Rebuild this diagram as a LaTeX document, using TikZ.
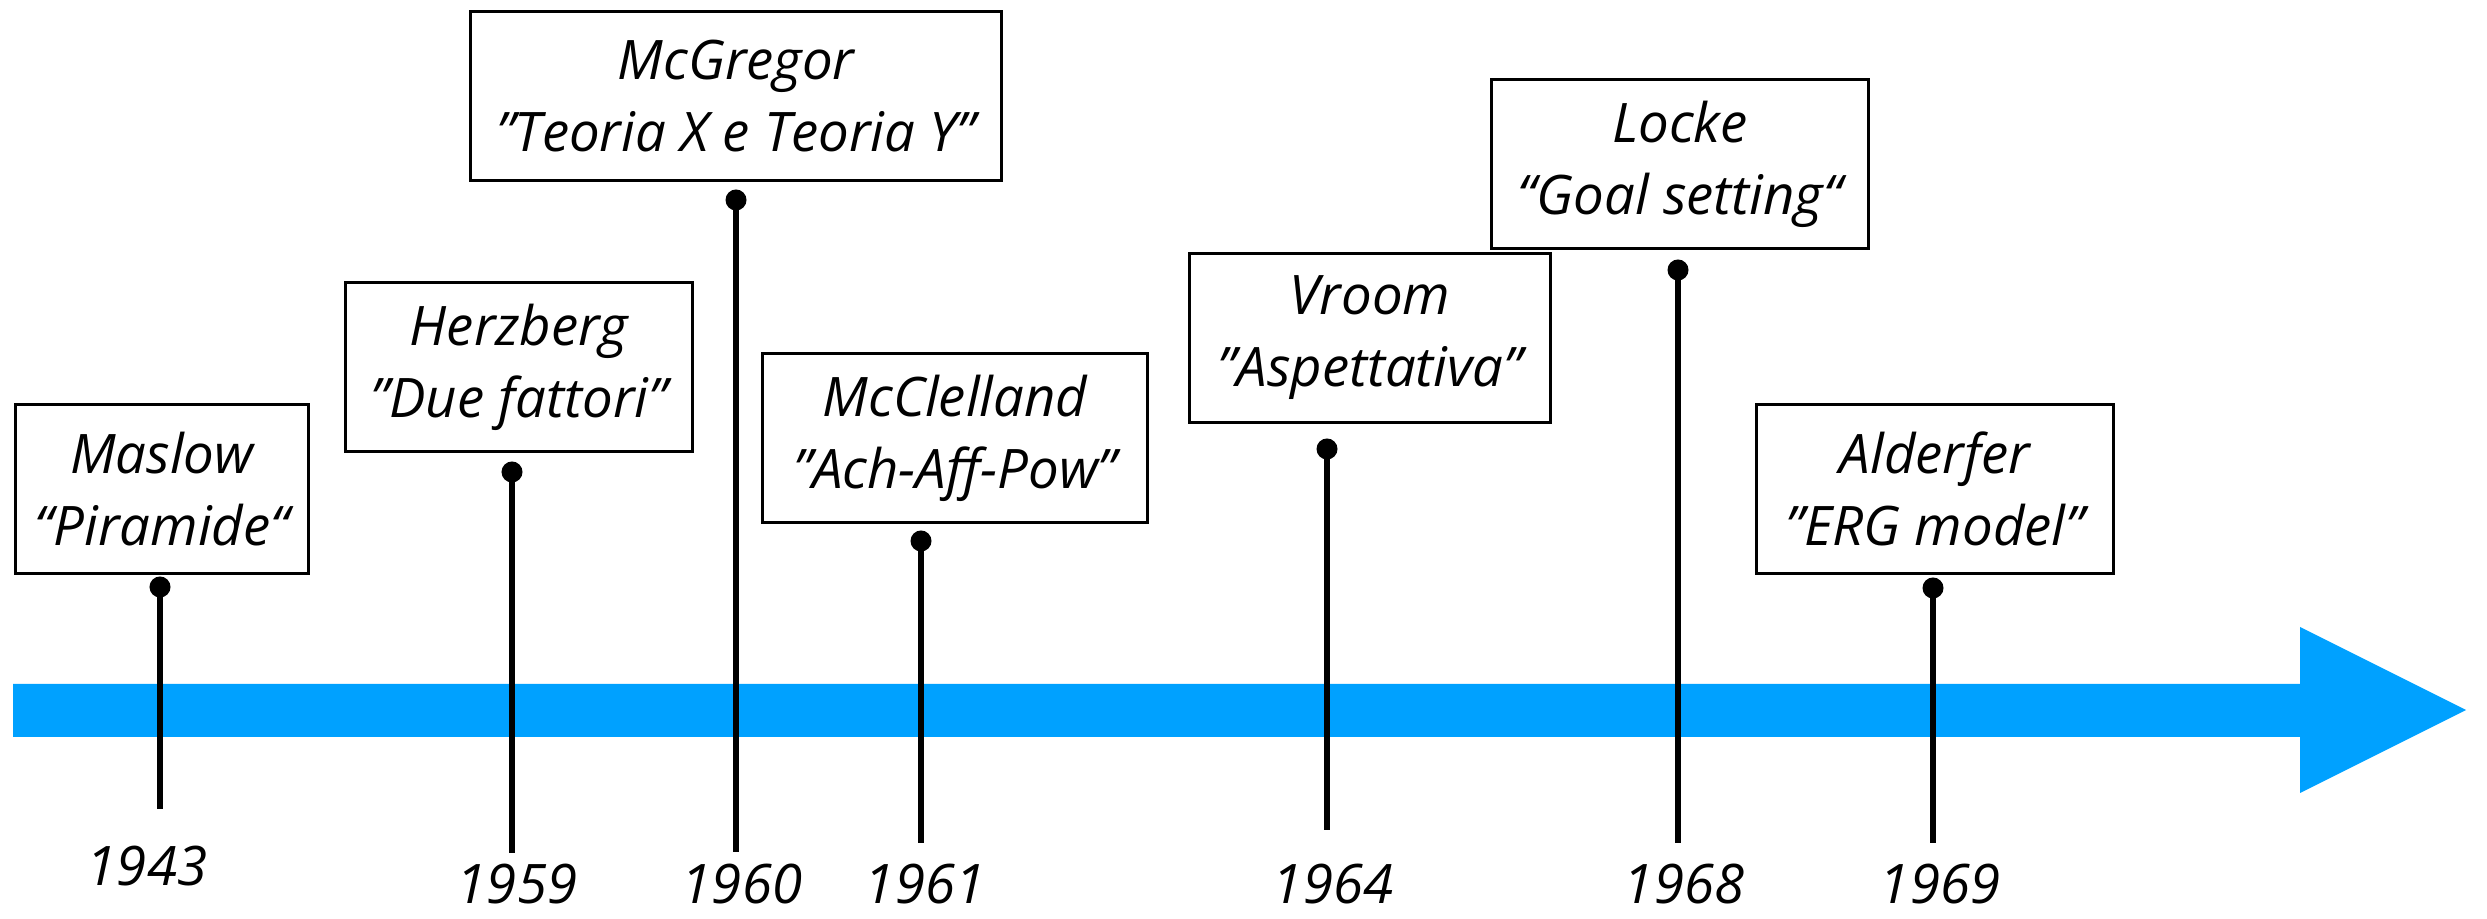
\documentclass[tikz,border=0pt]{standalone}
\usepackage{fontspec}
\setmainfont{Open Sans}

\definecolor{azzurro}{RGB}{0,161,255}

\begin{document}
\begin{tikzpicture}[
            x=0.01cm, y=-0.01cm,
            % Stile per i riquadri degli autori
            autore/.style={draw=black, line width=0.85pt, fill=white, align=center,
                minimum height=1.69cm, inner xsep=0.1cm,
                font=\fontsize{15.5}{20.5}\selectfont\itshape},
            % Stile per le aste verticali
            asta/.style={line width=1.7pt, black},
            % Stile per i pallini in cima alle aste
            pallino/.style={circle, fill=black, inner sep=0pt, minimum size=0.21cm},
            % Stile per gli anni
            anno/.style={anchor=base, inner sep=0pt,
                font=\fontsize{15.5}{20.5}\selectfont\itshape}
        ]

            \useasboundingbox (0,0) rectangle (2487,919);

            % --- Freccia del tempo ---
            \fill[azzurro] (13,684) -- (2300,684) -- (2300,627) -- (2466,710)
                -- (2300,793) -- (2300,737) -- (13,737) -- cycle;

            % --- Riquadri ---
            \node[autore, minimum width=2.93cm] (maslow) at (162,489) {Maslow\\“Piramide“};
            \node[autore, minimum width=3.46cm] (herzberg) at (519,367) {Herzberg\\"Due fattori"};
            \node[autore, minimum width=5.31cm] (mcgregor) at (736,96) {McGregor\\"Teoria X e Teoria Y"};
            \node[autore, minimum width=3.85cm] (mcclelland) at (955,438) {McClelland\\"Ach-Aff-Pow"};
            \node[autore, minimum width=3.60cm] (vroom) at (1370,338) {Vroom\\"Aspettativa"};
            \node[autore, minimum width=3.77cm] (locke) at (1680,164) {Locke\\“Goal setting“};
            \node[autore, minimum width=3.57cm] (alderfer) at (1935,489) {Alderfer\\"ERG model"};

            % --- Estremi delle aste ---
            \coordinate (p1943) at (160,587);  \coordinate (q1943) at (160,809);
            \coordinate (p1959) at (512,472);  \coordinate (q1959) at (512,853);
            \coordinate (p1960) at (736,200);  \coordinate (q1960) at (736,852);
            \coordinate (p1961) at (921,541);  \coordinate (q1961) at (921,843);
            \coordinate (p1964) at (1327,449); \coordinate (q1964) at (1327,830);
            \coordinate (p1968) at (1678,270); \coordinate (q1968) at (1678,843);
            \coordinate (p1969) at (1933,588); \coordinate (q1969) at (1933,843);

            % Disegna aste e pallini
            \foreach \anno in {1943,1959,1960,1961,1964,1968,1969} {
                \draw[asta] (p\anno) -- (q\anno);
                \node[pallino] at (p\anno) {};
            }

            % --- Anni ---
            \node[anno] (a1943) at (147,886) {1943};
            \node[anno] (a1959) at (517,904) {1959};
            \node[anno] (a1960) at (742,904) {1960};
            \node[anno] (a1961) at (925,904) {1961};
            \node[anno] (a1964) at (1333,904) {1964};
            \node[anno] (a1968) at (1684,904) {1968};
            \node[anno] (a1969) at (1940,904) {1969};

        \end{tikzpicture}
\end{document}
